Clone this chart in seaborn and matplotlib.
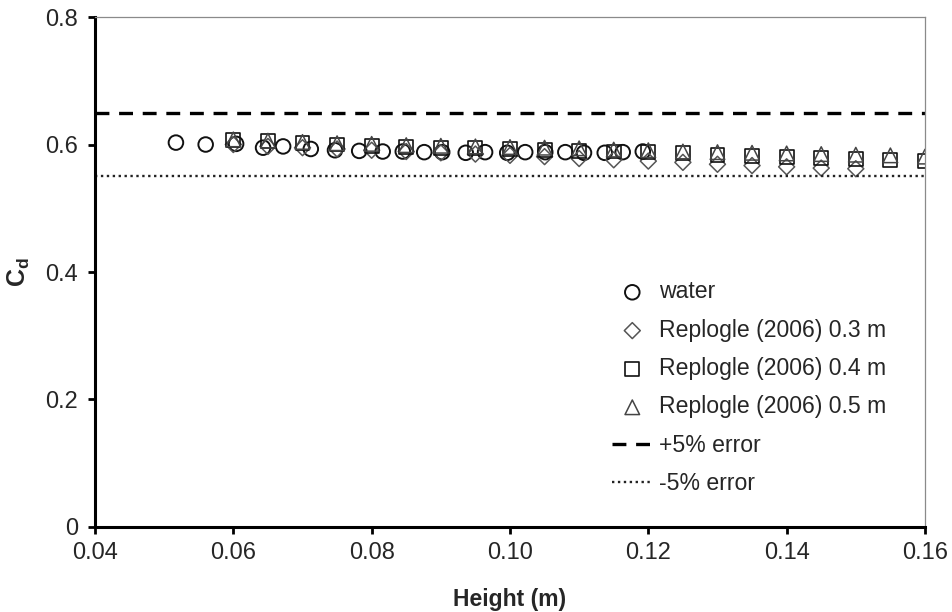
import matplotlib
matplotlib.use("Agg")
import matplotlib.pyplot as plt
import seaborn as sns

# Water measurements
water_h = [0.0517, 0.0560, 0.0604, 0.0643, 0.0672, 0.0712, 0.0747, 0.0782, 0.0816,
           0.0845, 0.0876, 0.0902, 0.0936, 0.0964, 0.0996, 0.1022, 0.1051, 0.1080,
           0.1107, 0.1137, 0.1163, 0.1192]
water_cd = [0.603, 0.600, 0.601, 0.595, 0.597, 0.593, 0.591, 0.590, 0.589,
            0.589, 0.588, 0.588, 0.587, 0.588, 0.587, 0.588, 0.588, 0.588,
            0.587, 0.587, 0.588, 0.589]

# Replogle (2006) reference curves
rep_h = [0.060, 0.065, 0.070, 0.075, 0.080, 0.085, 0.090, 0.095, 0.100, 0.105, 0.110,
         0.115, 0.120, 0.125, 0.130, 0.135, 0.140, 0.145, 0.150, 0.155, 0.160]
rep03_cd = [0.600, 0.597, 0.595, 0.593, 0.591, 0.589, 0.587, 0.585, 0.583, 0.581,
            0.578, 0.576, 0.574, 0.572, 0.569, 0.567, 0.565, 0.563, 0.562]
rep04_cd = [0.607, 0.605, 0.602, 0.600, 0.598, 0.596, 0.595, 0.594, 0.593, 0.592,
            0.590, 0.589, 0.588, 0.586, 0.584, 0.582, 0.580, 0.579, 0.577, 0.576, 0.574]
rep05_cd = [0.608, 0.606, 0.604, 0.602, 0.601, 0.599, 0.598, 0.597, 0.596, 0.595,
            0.594, 0.592, 0.591, 0.589, 0.588, 0.587, 0.586, 0.585, 0.584, 0.583, 0.581]

# Error bands
band_h = [0.04, 0.16]
plus5 = [0.65, 0.65]
minus5 = [0.55, 0.55]

x_ticks = [0.04, 0.06, 0.08, 0.10, 0.12, 0.14, 0.16]
x_tick_labels = ["0.04", "0.06", "0.08", "0.10", "0.12", "0.14", "0.16"]
y_ticks = [0.0, 0.2, 0.4, 0.6, 0.8]
y_tick_labels = ["0", "0.2", "0.4", "0.6", "0.8"]

sns.set_style("white")
plt.rcParams["font.family"] = ["Liberation Sans", "DejaVu Sans"]
plt.rcParams["mathtext.fontset"] = "custom"
plt.rcParams["mathtext.rm"] = "Liberation Sans"
plt.rcParams["mathtext.bf"] = "Liberation Sans:bold"

fig = plt.figure(figsize=(9.52, 6.12), dpi=100)
ax = fig.add_axes([0.0998, 0.1389, 0.8718, 0.8333])

sns.scatterplot(x=water_h, y=water_cd, ax=ax, marker="o", s=110,
                facecolor="none", edgecolor="#111111", linewidth=1.4, label="water")
sns.scatterplot(x=rep_h[:len(rep03_cd)], y=rep03_cd, ax=ax, marker="D", s=66,
                facecolor="none", edgecolor="#555555", linewidth=1.1,
                label="Replogle (2006) 0.3 m")
sns.scatterplot(x=rep_h, y=rep04_cd, ax=ax, marker="s", s=100,
                facecolor="none", edgecolor="#111111", linewidth=1.2,
                label="Replogle (2006) 0.4 m")
sns.scatterplot(x=rep_h, y=rep05_cd, ax=ax, marker="^", s=110,
                facecolor="none", edgecolor="#444444", linewidth=1.1,
                label="Replogle (2006) 0.5 m")

lw_dash = 2.4
sns.lineplot(x=band_h, y=plus5, ax=ax, color="black", linewidth=lw_dash,
             label="+5% error")
ax.lines[-1].set_linestyle((0, (10 / lw_dash, 7 / lw_dash)))
lw_dot = 1.7
sns.lineplot(x=band_h, y=minus5, ax=ax, color="#222222", linewidth=lw_dot,
             label="-5% error")
ax.lines[-1].set_linestyle((0, (1.0, 1.5)))

ax.set_xlim(0.04, 0.16)
ax.set_ylim(0, 0.8)
ax.set_xticks(x_ticks)
ax.set_xticklabels(x_tick_labels)
ax.set_yticks(y_ticks)
ax.set_yticklabels(y_tick_labels)
ax.tick_params(axis="both", labelsize=17, direction="out", length=5, width=2,
               color="black", left=True, bottom=True)
ax.tick_params(axis="y", pad=7)
ax.tick_params(axis="x", pad=6)

for side in ("left", "bottom"):
    ax.spines[side].set_color("black")
    ax.spines[side].set_linewidth(2.2)
for side in ("top", "right"):
    ax.spines[side].set_color("#8a8a8a")
    ax.spines[side].set_linewidth(0.9)

ax.set_xlabel("Height (m)", fontsize=16.5, fontweight="bold", labelpad=17)
ax.set_ylabel(r"$\mathbf{C_d}$", fontsize=18, labelpad=10)

leg = ax.legend(loc="upper left", bbox_to_anchor=(0.6333, 0.557),
                bbox_transform=fig.transFigure, frameon=False, fontsize=16.6,
                handlelength=1.75, handletextpad=0.28, labelspacing=0.665,
                borderaxespad=0)

fig.savefig("out.png", dpi=100)
